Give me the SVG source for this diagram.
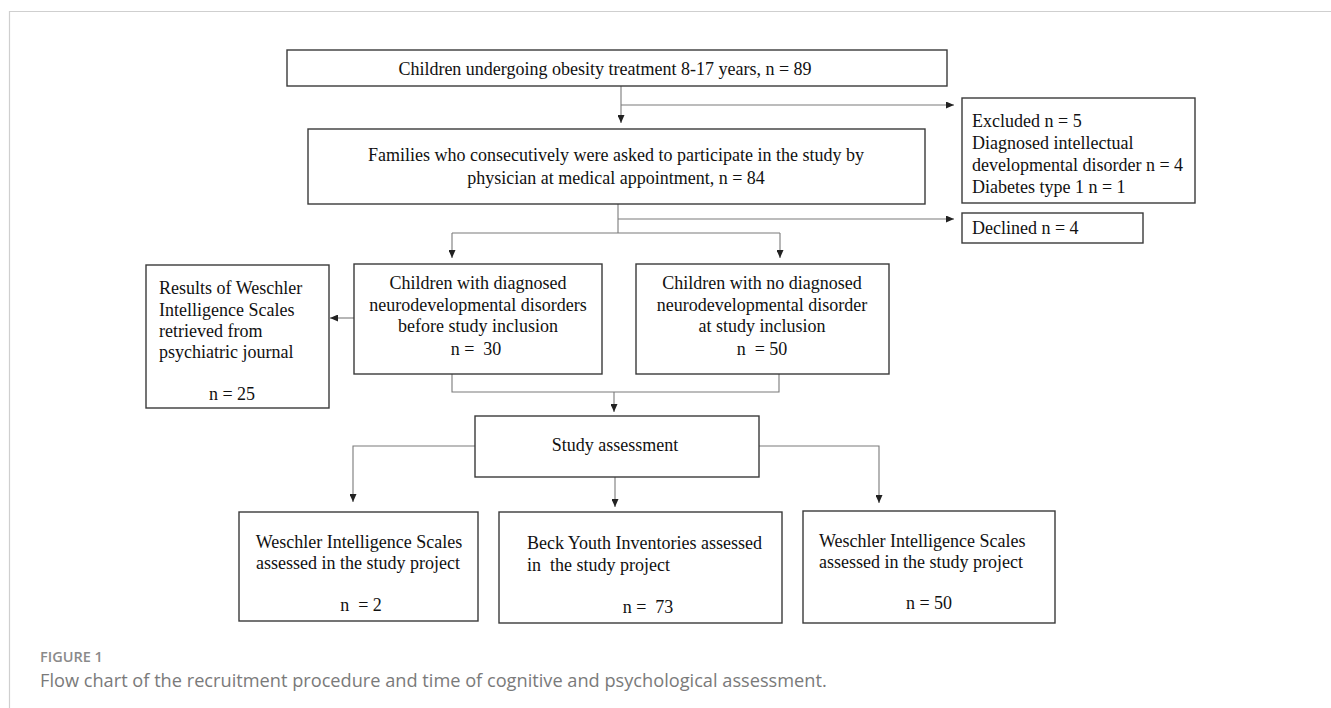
<svg xmlns="http://www.w3.org/2000/svg" width="1331" height="708" viewBox="0 0 1331 708">
<style>
.box{fill:#fff;stroke:#3a3a3a;stroke-width:1.4}
.t{font-family:"Liberation Serif","Times New Roman",serif;font-size:18px;fill:#111}
.c{text-anchor:middle}
.con{fill:none;stroke:#7a7a7a;stroke-width:1.1}
.cap1{font-family:"Open Sans","Noto Sans",sans-serif;font-size:14.5px;font-weight:600;fill:#8a8a8a}
.cap2{font-family:"Open Sans","Noto Sans",sans-serif;font-size:18.2px;fill:#7a7a7a}
</style>
<defs>
<marker id="ah" markerUnits="userSpaceOnUse" markerWidth="8" markerHeight="7" refX="8" refY="3.5" orient="auto">
<path d="M0,0 L8,3.5 L0,7 z" fill="#222"/>
</marker>
</defs>
<rect width="1331" height="708" fill="#fff"/>
<path d="M9.5,708 V11.5 H1331" fill="none" stroke="#cfcfcf" stroke-width="1.2"/>

<g id="connectors">
<path class="con" d="M621,86 V123" marker-end="url(#ah)"/>
<path class="con" d="M621,105 H954" marker-end="url(#ah)"/>
<path class="con" d="M618,204 V233"/>
<path class="con" d="M618,219 H954" marker-end="url(#ah)"/>
<path class="con" d="M452,233 H780"/>
<path class="con" d="M452,233 V258" marker-end="url(#ah)"/>
<path class="con" d="M780,233 V258" marker-end="url(#ah)"/>
<path class="con" d="M354,318 H330" marker-end="url(#ah)"/>
<path class="con" d="M452,374 V392 H779 V374"/>
<path class="con" d="M614,392 V412" marker-end="url(#ah)"/>
<path class="con" d="M475,446 H353 V502" marker-end="url(#ah)"/>
<path class="con" d="M615,477 V507" marker-end="url(#ah)"/>
<path class="con" d="M759,446 H879 V503" marker-end="url(#ah)"/>
</g>

<g id="n1">
<rect class="box" x="287" y="50" width="660" height="36"/>
<text class="t c" x="605" y="75">Children undergoing obesity treatment 8-17 years, n = 89</text>
</g>

<g id="n2">
<rect class="box" x="308" y="129" width="617" height="75"/>
<text class="t c" x="616" y="161">Families who consecutively were asked to participate in the study by</text>
<text class="t c" x="616" y="184">physician at medical appointment, n = 84</text>
</g>

<g id="excluded">
<rect class="box" x="962" y="98" width="233" height="105"/>
<text class="t" x="972" y="127">Excluded n = 5</text>
<text class="t" x="972" y="149">Diagnosed intellectual</text>
<text class="t" x="972" y="171">developmental disorder n = 4</text>
<text class="t" x="972" y="193">Diabetes type 1 n = 1</text>
</g>

<g id="declined">
<rect class="box" x="962" y="213" width="181" height="30"/>
<text class="t" x="972" y="234">Declined n = 4</text>
</g>

<g id="results">
<rect class="box" x="146" y="265" width="183" height="143"/>
<text class="t" x="159" y="294">Results of Weschler</text>
<text class="t" x="159" y="316">Intelligence Scales</text>
<text class="t" x="159" y="337">retrieved from</text>
<text class="t" x="159" y="358">psychiatric journal</text>
<text class="t c" x="232" y="400">n = 25</text>
</g>

<g id="diagnosed">
<rect class="box" x="354" y="264" width="248" height="110"/>
<text class="t c" x="478" y="289">Children with diagnosed</text>
<text class="t c" x="478" y="311">neurodevelopmental disorders</text>
<text class="t c" x="478" y="332">before study inclusion</text>
<text class="t c" x="476" y="355" xml:space="preserve">n =  30</text>
</g>

<g id="nodiagnosis">
<rect class="box" x="636" y="264" width="253" height="110"/>
<text class="t c" x="762" y="289">Children with no diagnosed</text>
<text class="t c" x="762" y="311">neurodevelopmental disorder</text>
<text class="t c" x="762" y="332">at study inclusion</text>
<text class="t c" x="762" y="355" xml:space="preserve">n  = 50</text>
</g>

<g id="study">
<rect class="box" x="475" y="416" width="284" height="61"/>
<text class="t c" x="615" y="451">Study assessment</text>
</g>

<g id="wis1">
<rect class="box" x="239" y="512" width="239" height="109"/>
<text class="t c" x="359" y="548">Weschler Intelligence Scales</text>
<text class="t c" x="358" y="569">assessed in the study project</text>
<text class="t c" x="361" y="611" xml:space="preserve">n  = 2</text>
</g>

<g id="beck">
<rect class="box" x="499" y="512" width="283" height="111"/>
<text class="t" x="527" y="549">Beck Youth Inventories assessed</text>
<text class="t" x="527" y="571" xml:space="preserve">in  the study project</text>
<text class="t c" x="648" y="613" xml:space="preserve">n =  73</text>
</g>

<g id="wis2">
<rect class="box" x="803" y="511" width="252" height="112"/>
<text class="t" x="819" y="547">Weschler Intelligence Scales</text>
<text class="t" x="819" y="568">assessed in the study project</text>
<text class="t c" x="929" y="609">n = 50</text>
</g>

<g id="caption">
<text class="cap1" x="40" y="662">FIGURE 1</text>
<text class="cap2" x="40" y="687">Flow chart of the recruitment procedure and time of cognitive and psychological assessment.</text>
</g>
</svg>
